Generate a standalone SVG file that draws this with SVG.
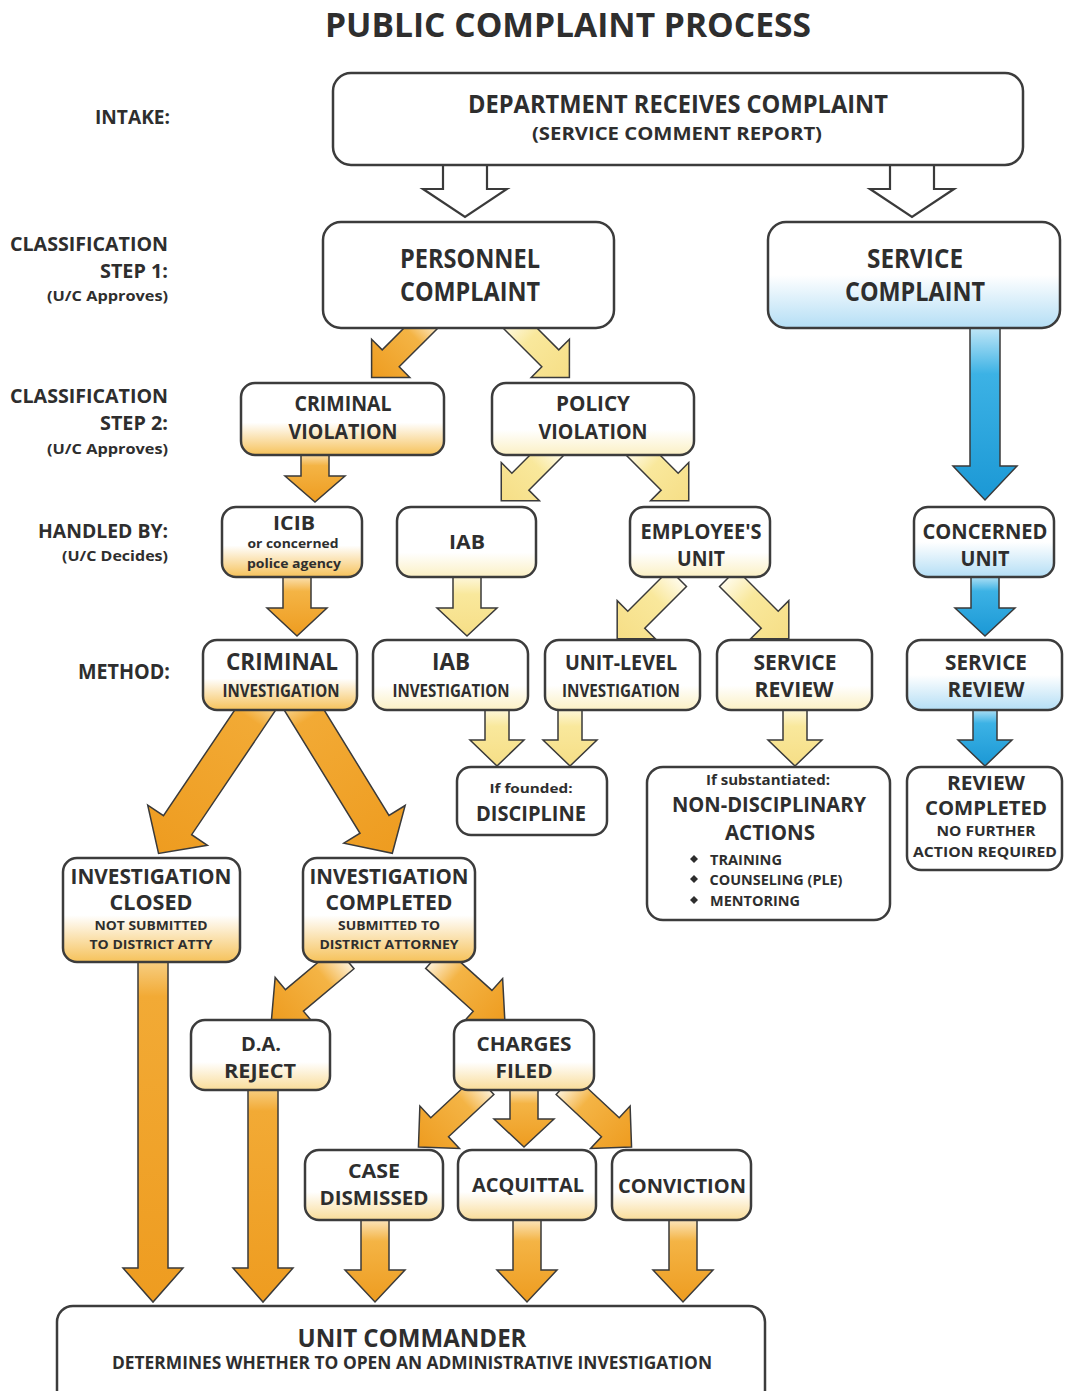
<svg xmlns="http://www.w3.org/2000/svg" width="1065" height="1391" viewBox="0 0 1065 1391">
<defs>
<linearGradient id="ao" x1="0" y1="0" x2="0" y2="1"><stop offset="0" stop-color="#fdf0d6"/><stop offset="0.3" stop-color="#f4b445"/><stop offset="1" stop-color="#ee9c20"/></linearGradient>
<linearGradient id="aol" x1="0" y1="0" x2="0" y2="1"><stop offset="0" stop-color="#f8d590"/><stop offset="0.12" stop-color="#f2aa35"/><stop offset="1" stop-color="#ee9c20"/></linearGradient>
<linearGradient id="ay" x1="0" y1="0" x2="0" y2="1"><stop offset="0" stop-color="#fffbea"/><stop offset="0.35" stop-color="#f9e89c"/><stop offset="1" stop-color="#f6de86"/></linearGradient>
<linearGradient id="ab" x1="0" y1="0" x2="0" y2="1"><stop offset="0" stop-color="#d6effa"/><stop offset="0.3" stop-color="#3cb2e5"/><stop offset="1" stop-color="#1b98d5"/></linearGradient>
<linearGradient id="bo" x1="0" y1="0" x2="0" y2="1"><stop offset="0" stop-color="#fff"/><stop offset="0.55" stop-color="#fff"/><stop offset="1" stop-color="#f6c25a"/></linearGradient>
<linearGradient id="bol" x1="0" y1="0" x2="0" y2="1"><stop offset="0" stop-color="#fff"/><stop offset="0.6" stop-color="#fff"/><stop offset="1" stop-color="#f9dc98"/></linearGradient>
<linearGradient id="by" x1="0" y1="0" x2="0" y2="1"><stop offset="0" stop-color="#fff"/><stop offset="0.65" stop-color="#fff"/><stop offset="1" stop-color="#fbf0c4"/></linearGradient>
<linearGradient id="bb" x1="0" y1="0" x2="0" y2="1"><stop offset="0" stop-color="#fff"/><stop offset="0.5" stop-color="#fff"/><stop offset="1" stop-color="#b4def5"/></linearGradient>
</defs>
<style>
.t{font-family:"Open Sans","Liberation Sans",sans-serif;font-weight:700;fill:#2e2e2e;text-anchor:middle}
.l{font-family:"Open Sans","Liberation Sans",sans-serif;font-weight:700;fill:#2e2e2e;text-anchor:end}
.box{stroke:#3c3c3c;stroke-width:2.5;fill:#fff}
.ar{stroke:#3a3a3a;stroke-width:1.5;stroke-linejoin:miter}
.o{fill:url(#ao)}.ol{fill:url(#aol)}.y{fill:url(#ay)}.b{fill:url(#ab)}.h{fill:#fff;stroke-width:2.2}
.d{fill:#2e2e2e}
</style>
<rect width="1065" height="1391" fill="#fff"/>
<text class="t" x="568" y="37" font-size="34" textLength="486" lengthAdjust="spacingAndGlyphs">PUBLIC COMPLAINT PROCESS</text>

<g id="labels">
<text class="l" x="170" y="124" font-size="20" textLength="75" lengthAdjust="spacingAndGlyphs">INTAKE:</text>
<text class="l" x="168" y="251" font-size="20" textLength="158" lengthAdjust="spacingAndGlyphs">CLASSIFICATION</text>
<text class="l" x="168" y="278" font-size="20" textLength="68" lengthAdjust="spacingAndGlyphs">STEP 1:</text>
<text class="l" x="168" y="301" font-size="14" textLength="121" lengthAdjust="spacingAndGlyphs">(U/C Approves)</text>
<text class="l" x="168" y="403" font-size="20" textLength="158" lengthAdjust="spacingAndGlyphs">CLASSIFICATION</text>
<text class="l" x="168" y="430" font-size="20" textLength="68" lengthAdjust="spacingAndGlyphs">STEP 2:</text>
<text class="l" x="168" y="454" font-size="14" textLength="121" lengthAdjust="spacingAndGlyphs">(U/C Approves)</text>
<text class="l" x="168" y="538" font-size="20" textLength="130" lengthAdjust="spacingAndGlyphs">HANDLED BY:</text>
<text class="l" x="168" y="561" font-size="14" textLength="106" lengthAdjust="spacingAndGlyphs">(U/C Decides)</text>
<text class="l" x="170" y="679" font-size="21" textLength="92" lengthAdjust="spacingAndGlyphs">METHOD:</text>
</g>

<g id="connectors">
<polygon class="ar h" transform="translate(465,158)" points="-22,0 22,0 22,31 42,31 0,59 -42,31 -22,31"/>
<polygon class="ar h" transform="translate(912,158)" points="-22,0 22,0 22,31 42,31 0,59 -42,31 -22,31"/>
<polygon class="ar o" transform="translate(431,318) rotate(45)" points="-12,0 12,0 12,57 27,57 0,84 -27,57 -12,57"/>
<polygon class="ar o" transform="translate(315,450)" points="-14,0 14,0 14,26 30,26 0,52 -30,26 -14,26"/>
<polygon class="ar o" transform="translate(297,572)" points="-14,0 14,0 14,36 30,36 0,64 -30,36 -14,36"/>
<polygon class="ar ol" transform="translate(262,700) rotate(34)" points="-17,0 17,0 17,151 36,151 0,185 -36,151 -17,151"/>
<polygon class="ar ol" transform="translate(298,700) rotate(-31.6)" points="-17,0 17,0 17,146 36,146 0,180 -36,146 -17,146"/>
<polygon class="ar ol" transform="translate(153,955)" points="-15,0 15,0 15,313 30,313 0,347 -30,313 -15,313"/>
<polygon class="ar o" transform="translate(345,958) rotate(50)" points="-14,0 14,0 14,66 30,66 0,96 -30,66 -14,66"/>
<polygon class="ar o" transform="translate(435,958) rotate(-48)" points="-14,0 14,0 14,64 30,64 0,94 -30,64 -14,64"/>
<polygon class="ar ol" transform="translate(263,1085)" points="-15,0 15,0 15,183 30,183 0,217 -30,183 -15,183"/>
<polygon class="ar o" transform="translate(485,1085) rotate(47)" points="-13,0 13,0 13,62 29,62 0,91 -29,62 -13,62"/>
<polygon class="ar o" transform="translate(524,1085)" points="-14,0 14,0 14,34 30,34 0,62 -30,34 -14,34"/>
<polygon class="ar o" transform="translate(565,1085) rotate(-47)" points="-13,0 13,0 13,62 29,62 0,91 -29,62 -13,62"/>
<polygon class="ar o" transform="translate(375,1215)" points="-14,0 14,0 14,55 30,55 0,87 -30,55 -14,55"/>
<polygon class="ar o" transform="translate(527,1215)" points="-14,0 14,0 14,55 30,55 0,87 -30,55 -14,55"/>
<polygon class="ar o" transform="translate(683,1215)" points="-14,0 14,0 14,55 30,55 0,87 -30,55 -14,55"/>
<polygon class="ar y" transform="translate(510,318) rotate(-45)" points="-12,0 12,0 12,57 27,57 0,84 -27,57 -12,57"/>
<polygon class="ar y" transform="translate(555,447) rotate(45)" points="-12,0 12,0 12,49 27,49 0,76 -27,49 -12,49"/>
<polygon class="ar y" transform="translate(635,447) rotate(-45)" points="-12,0 12,0 12,49 27,49 0,76 -27,49 -12,49"/>
<polygon class="ar y" transform="translate(467,572)" points="-14,0 14,0 14,36 30,36 0,64 -30,36 -14,36"/>
<polygon class="ar y" transform="translate(678,578) rotate(45)" points="-12,0 12,0 12,59 27,59 0,86 -27,59 -12,59"/>
<polygon class="ar y" transform="translate(728,578) rotate(-45)" points="-12,0 12,0 12,59 27,59 0,86 -27,59 -12,59"/>
<polygon class="ar y" transform="translate(497,705)" points="-12,0 12,0 12,35 27,35 0,61 -27,35 -12,35"/>
<polygon class="ar y" transform="translate(570,705)" points="-12,0 12,0 12,35 27,35 0,61 -27,35 -12,35"/>
<polygon class="ar y" transform="translate(795,705)" points="-12,0 12,0 12,35 27,35 0,61 -27,35 -12,35"/>
<polygon class="ar b" transform="translate(985,320)" points="-15,0 15,0 15,146 32,146 0,180 -32,146 -15,146"/>
<polygon class="ar b" transform="translate(985,572)" points="-14,0 14,0 14,36 30,36 0,64 -30,36 -14,36"/>
<polygon class="ar b" transform="translate(985,705)" points="-12,0 12,0 12,35 27,35 0,61 -27,35 -12,35"/>
</g>

<g id="n-dept"><rect class="box" x="333" y="73" width="690" height="92" rx="18"/>
<text class="t" x="678" y="113" font-size="25" textLength="420" lengthAdjust="spacingAndGlyphs">DEPARTMENT RECEIVES COMPLAINT</text>
<text class="t" x="677" y="140" font-size="18" textLength="290" lengthAdjust="spacingAndGlyphs">(SERVICE COMMENT REPORT)</text></g>

<g id="n-personnel"><rect class="box" x="323" y="222" width="291" height="106" rx="18"/>
<text class="t" x="470" y="268" font-size="26" textLength="140" lengthAdjust="spacingAndGlyphs">PERSONNEL</text>
<text class="t" x="470" y="301" font-size="26" textLength="140" lengthAdjust="spacingAndGlyphs">COMPLAINT</text></g>

<g id="n-service"><rect class="box" x="768" y="222" width="292" height="106" rx="18" style="fill:url(#bb)"/>
<text class="t" x="915" y="268" font-size="26" textLength="96" lengthAdjust="spacingAndGlyphs">SERVICE</text>
<text class="t" x="915" y="301" font-size="26" textLength="140" lengthAdjust="spacingAndGlyphs">COMPLAINT</text></g>

<g id="n-criminal-violation"><rect class="box" x="241" y="383" width="203" height="72" rx="14" style="fill:url(#bo)"/>
<text class="t" x="343" y="411" font-size="21" textLength="97" lengthAdjust="spacingAndGlyphs">CRIMINAL</text>
<text class="t" x="343" y="439" font-size="21" textLength="109" lengthAdjust="spacingAndGlyphs">VIOLATION</text></g>

<g id="n-policy-violation"><rect class="box" x="492" y="383" width="202" height="72" rx="14" style="fill:url(#by)"/>
<text class="t" x="593" y="411" font-size="21" textLength="74" lengthAdjust="spacingAndGlyphs">POLICY</text>
<text class="t" x="593" y="439" font-size="21" textLength="109" lengthAdjust="spacingAndGlyphs">VIOLATION</text></g>

<g id="n-icib"><rect class="box" x="222" y="507" width="140" height="70" rx="14" style="fill:url(#bo)"/>
<text class="t" x="294" y="530" font-size="19" textLength="42" lengthAdjust="spacingAndGlyphs">ICIB</text>
<text class="t" x="293" y="548" font-size="13" textLength="91" lengthAdjust="spacingAndGlyphs">or concerned</text>
<text class="t" x="294" y="568" font-size="13" textLength="94" lengthAdjust="spacingAndGlyphs">police agency</text></g>

<g id="n-iab"><rect class="box" x="397" y="507" width="139" height="70" rx="14" style="fill:url(#by)"/>
<text class="t" x="467" y="549" font-size="20" textLength="36" lengthAdjust="spacingAndGlyphs">IAB</text></g>

<g id="n-employee-unit"><rect class="box" x="630" y="507" width="140" height="70" rx="14" style="fill:url(#by)"/>
<text class="t" x="701" y="539" font-size="21" textLength="121" lengthAdjust="spacingAndGlyphs">EMPLOYEE'S</text>
<text class="t" x="701" y="566" font-size="21" textLength="48" lengthAdjust="spacingAndGlyphs">UNIT</text></g>

<g id="n-concerned-unit"><rect class="box" x="914" y="507" width="140" height="70" rx="14" style="fill:url(#bb)"/>
<text class="t" x="985" y="539" font-size="21" textLength="125" lengthAdjust="spacingAndGlyphs">CONCERNED</text>
<text class="t" x="985" y="566" font-size="21" textLength="49" lengthAdjust="spacingAndGlyphs">UNIT</text></g>

<g id="n-criminal-investigation"><rect class="box" x="203" y="640" width="154" height="70" rx="14" style="fill:url(#bo)"/>
<text class="t" x="282" y="670" font-size="24" textLength="112" lengthAdjust="spacingAndGlyphs">CRIMINAL</text>
<text class="t" x="281" y="697" font-size="17" textLength="117" lengthAdjust="spacingAndGlyphs">INVESTIGATION</text></g>

<g id="n-iab-investigation"><rect class="box" x="373" y="640" width="155" height="70" rx="14" style="fill:url(#by)"/>
<text class="t" x="451" y="670" font-size="24" textLength="38" lengthAdjust="spacingAndGlyphs">IAB</text>
<text class="t" x="451" y="697" font-size="17" textLength="117" lengthAdjust="spacingAndGlyphs">INVESTIGATION</text></g>

<g id="n-unit-level"><rect class="box" x="545" y="640" width="155" height="70" rx="14" style="fill:url(#by)"/>
<text class="t" x="621" y="670" font-size="21" textLength="112" lengthAdjust="spacingAndGlyphs">UNIT-LEVEL</text>
<text class="t" x="621" y="697" font-size="17" textLength="118" lengthAdjust="spacingAndGlyphs">INVESTIGATION</text></g>

<g id="n-service-review"><rect class="box" x="717" y="640" width="155" height="70" rx="14" style="fill:url(#by)"/>
<text class="t" x="795" y="670" font-size="21" textLength="83" lengthAdjust="spacingAndGlyphs">SERVICE</text>
<text class="t" x="794" y="697" font-size="21" textLength="79" lengthAdjust="spacingAndGlyphs">REVIEW</text></g>

<g id="n-service-review-blue"><rect class="box" x="907" y="640" width="155" height="70" rx="14" style="fill:url(#bb)"/>
<text class="t" x="986" y="670" font-size="21" textLength="82" lengthAdjust="spacingAndGlyphs">SERVICE</text>
<text class="t" x="986" y="697" font-size="21" textLength="77" lengthAdjust="spacingAndGlyphs">REVIEW</text></g>

<g id="n-discipline"><rect class="box" x="457" y="767" width="150" height="68" rx="14"/>
<text class="t" x="531" y="793" font-size="13" textLength="83" lengthAdjust="spacingAndGlyphs">If founded:</text>
<text class="t" x="531" y="821" font-size="21" textLength="110" lengthAdjust="spacingAndGlyphs">DISCIPLINE</text></g>

<g id="n-non-disciplinary"><rect class="box" x="647" y="767" width="243" height="153" rx="16"/>
<text class="t" x="768" y="785" font-size="14" textLength="124" lengthAdjust="spacingAndGlyphs">If substantiated:</text>
<text class="t" x="769" y="812" font-size="21" textLength="194" lengthAdjust="spacingAndGlyphs">NON-DISCIPLINARY</text>
<text class="t" x="770" y="840" font-size="21" textLength="90" lengthAdjust="spacingAndGlyphs">ACTIONS</text>
<polygon class="d" points="694,855 698,859 694,863 690,859"/>
<polygon class="d" points="694,875 698,879 694,883 690,879"/>
<polygon class="d" points="694,896 698,900 694,904 690,900"/>
<text class="t" x="746" y="865" font-size="14" textLength="72" lengthAdjust="spacingAndGlyphs">TRAINING</text>
<text class="t" x="776" y="885" font-size="14" textLength="133" lengthAdjust="spacingAndGlyphs">COUNSELING (PLE)</text>
<text class="t" x="755" y="906" font-size="14" textLength="90" lengthAdjust="spacingAndGlyphs">MENTORING</text></g>

<g id="n-review-completed"><rect class="box" x="907" y="767" width="155" height="103" rx="14"/>
<text class="t" x="986" y="790" font-size="19" textLength="78" lengthAdjust="spacingAndGlyphs">REVIEW</text>
<text class="t" x="986" y="815" font-size="19" textLength="122" lengthAdjust="spacingAndGlyphs">COMPLETED</text>
<text class="t" x="986" y="836" font-size="14" textLength="99" lengthAdjust="spacingAndGlyphs">NO FURTHER</text>
<text class="t" x="985" y="857" font-size="14" textLength="144" lengthAdjust="spacingAndGlyphs">ACTION REQUIRED</text></g>

<g id="n-investigation-closed"><rect class="box" x="63" y="858" width="177" height="104" rx="14" style="fill:url(#bo)"/>
<text class="t" x="151" y="884" font-size="21" textLength="161" lengthAdjust="spacingAndGlyphs">INVESTIGATION</text>
<text class="t" x="151" y="910" font-size="21" textLength="83" lengthAdjust="spacingAndGlyphs">CLOSED</text>
<text class="t" x="151" y="930" font-size="12.5" textLength="113" lengthAdjust="spacingAndGlyphs">NOT SUBMITTED</text>
<text class="t" x="151" y="949" font-size="12.5" textLength="123" lengthAdjust="spacingAndGlyphs">TO DISTRICT ATTY</text></g>

<g id="n-investigation-completed"><rect class="box" x="303" y="858" width="172" height="104" rx="14" style="fill:url(#bo)"/>
<text class="t" x="389" y="884" font-size="21" textLength="159" lengthAdjust="spacingAndGlyphs">INVESTIGATION</text>
<text class="t" x="389" y="910" font-size="21" textLength="127" lengthAdjust="spacingAndGlyphs">COMPLETED</text>
<text class="t" x="389" y="930" font-size="12.5" textLength="102" lengthAdjust="spacingAndGlyphs">SUBMITTED TO</text>
<text class="t" x="389" y="949" font-size="12.5" textLength="139" lengthAdjust="spacingAndGlyphs">DISTRICT ATTORNEY</text></g>

<g id="n-da-reject"><rect class="box" x="191" y="1020" width="139" height="70" rx="14" style="fill:url(#bol)"/>
<text class="t" x="261" y="1051" font-size="20" textLength="40" lengthAdjust="spacingAndGlyphs">D.A.</text>
<text class="t" x="260" y="1078" font-size="20" textLength="72" lengthAdjust="spacingAndGlyphs">REJECT</text></g>

<g id="n-charges-filed"><rect class="box" x="454" y="1020" width="140" height="70" rx="14" style="fill:url(#bol)"/>
<text class="t" x="524" y="1051" font-size="20" textLength="95" lengthAdjust="spacingAndGlyphs">CHARGES</text>
<text class="t" x="524" y="1078" font-size="20" textLength="57" lengthAdjust="spacingAndGlyphs">FILED</text></g>

<g id="n-case-dismissed"><rect class="box" x="305" y="1150" width="138" height="70" rx="14" style="fill:url(#bol)"/>
<text class="t" x="374" y="1178" font-size="20" textLength="52" lengthAdjust="spacingAndGlyphs">CASE</text>
<text class="t" x="374" y="1205" font-size="20" textLength="109" lengthAdjust="spacingAndGlyphs">DISMISSED</text></g>

<g id="n-acquittal"><rect class="box" x="458" y="1150" width="138" height="70" rx="14" style="fill:url(#bol)"/>
<text class="t" x="528" y="1192" font-size="20" textLength="112" lengthAdjust="spacingAndGlyphs">ACQUITTAL</text></g>

<g id="n-conviction"><rect class="box" x="612" y="1150" width="139" height="70" rx="14" style="fill:url(#bol)"/>
<text class="t" x="682" y="1193" font-size="20" textLength="128" lengthAdjust="spacingAndGlyphs">CONVICTION</text></g>

<g id="n-unit-commander"><rect class="box" x="57" y="1306" width="708" height="100" rx="16"/>
<text class="t" x="412" y="1347" font-size="25" textLength="229" lengthAdjust="spacingAndGlyphs">UNIT COMMANDER</text>
<text class="t" x="412" y="1369" font-size="17" textLength="600" lengthAdjust="spacingAndGlyphs">DETERMINES WHETHER TO OPEN AN  ADMINISTRATIVE INVESTIGATION</text></g>
</svg>
